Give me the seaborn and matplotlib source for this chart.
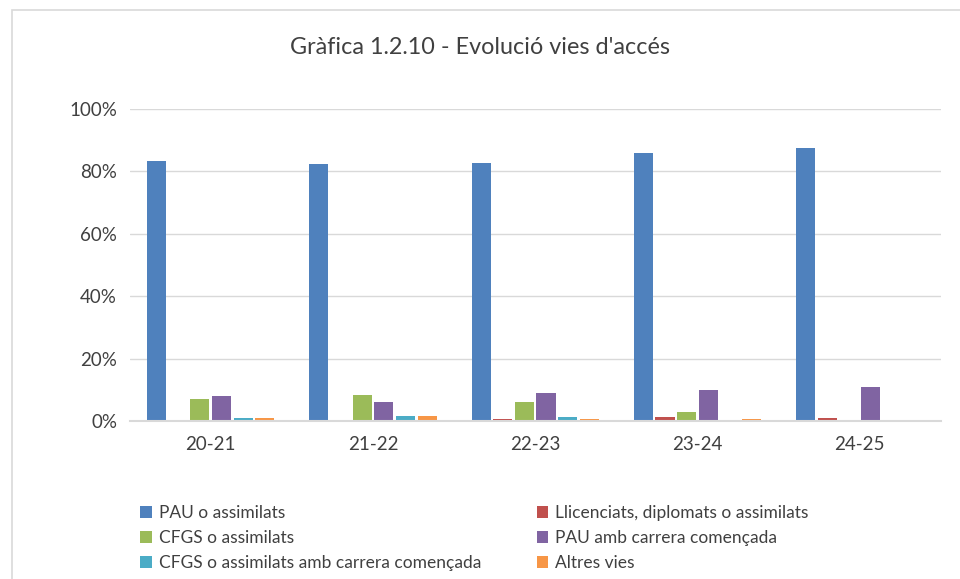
import matplotlib
matplotlib.use("Agg")
from matplotlib import pyplot as plt
from matplotlib.patches import Rectangle
from matplotlib.ticker import PercentFormatter
import pandas as pd
import seaborn as sns

# dades llegides de la grafica (percentatges)
cursos = ["20-21", "21-22", "22-23", "23-24", "24-25"]
vies = ["PAU o assimilats", "Llicenciats, diplomats o assimilats", "CFGS o assimilats",
        "PAU amb carrera començada", "CFGS o assimilats amb carrera començada", "Altres vies"]
pau = [83.2, 82.4, 82.8, 85.8, 87.6]
llicenciats = [0.0, 0.0, 0.5, 1.2, 1.1]
cfgs = [7.0, 8.4, 6.2, 3.0, 0.0]
pau_carrera = [8.0, 6.0, 9.0, 9.8, 10.9]
cfgs_carrera = [1.0, 1.7, 1.2, 0.0, 0.0]
altres = [0.9, 1.7, 0.5, 0.5, 0.4]
colors = ["#4F81BD", "#C0504D", "#9BBB59", "#8064A2", "#4BACC6", "#F79646"]

series = [pau, llicenciats, cfgs, pau_carrera, cfgs_carrera, altres]
rows = []
for via, vals in zip(vies, series):
    for curs, v in zip(cursos, vals):
        rows.append({"curs": curs, "via": via, "valor": v})
df = pd.DataFrame(rows)

sns.set_theme(style="white")
plt.rcParams["font.family"] = ["Lato", "DejaVu Sans"]

fig = plt.figure(figsize=(9.6, 5.79), dpi=100)
ax = fig.add_axes([0.135, 0.273, 0.845, 0.539])

sns.barplot(data=df, x="curs", y="valor", hue="via", hue_order=vies, order=cursos,
            palette=colors, width=0.8, gap=0.12, linewidth=0, ax=ax, saturation=1, legend=True)

ax.set_ylim(0, 100)
ax.set_yticks([0, 20, 40, 60, 80, 100])
ax.yaxis.set_major_formatter(PercentFormatter(decimals=0))
ax.grid(axis="y", color="#D9D9D9", linewidth=1)
ax.set_axisbelow(True)
for s in ["left", "right", "top"]:
    ax.spines[s].set_visible(False)
ax.spines["bottom"].set_color("#D9D9D9")
ax.spines["bottom"].set_linewidth(1.5)
ax.tick_params(axis="both", labelsize=13.5, colors="#404040", length=0)
ax.tick_params(axis="x", pad=11)
ax.tick_params(axis="y", pad=9)
ax.set_xlabel("")
ax.set_ylabel("")

handles, labels = ax.get_legend_handles_labels()
ax.get_legend().remove()
order = [0, 2, 4, 1, 3, 5]
fig.legend([handles[i] for i in order], [labels[i] for i in order],
           loc="upper left", bbox_to_anchor=(0.139, 0.140), ncol=2, frameon=False,
           fontsize=12.5, labelcolor="#404040", handlelength=0.65, handleheight=0.65,
           handletextpad=0.4, columnspacing=3.2, labelspacing=0.52, borderaxespad=0)

fig.text(0.5, 0.918, "Gràfica 1.2.10 - Evolució vies d'accés", ha="center", va="center",
         fontsize=16.8, color="#404040")

fig.patches.append(Rectangle((12 / 960, -0.01), 1.0, 0.993, transform=fig.transFigure,
                             fill=False, edgecolor="#D9D9D9", linewidth=1.2))

fig.savefig("out.png", dpi=100)
